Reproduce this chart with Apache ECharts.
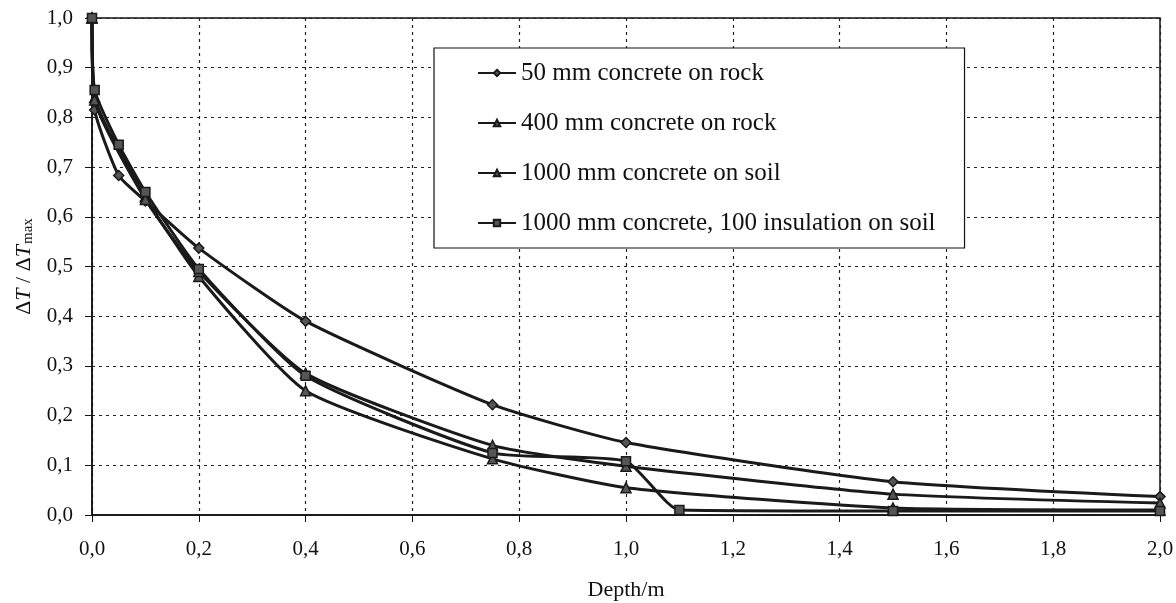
<!DOCTYPE html>
<html>
<head>
<meta charset="utf-8">
<script src="https://cdn.jsdelivr.net/npm/echarts@6/dist/echarts.min.js"></script>
<style>html,body{margin:0;padding:0;background:#fff}#c{width:1176px;height:603px}</style>
</head>
<body>
<div id="c"></div>
<script>
const seriesNames = [
  '50 mm concrete on rock',
  '400 mm concrete on rock',
  '1000 mm concrete on soil',
  '1000 mm concrete, 100 insulation on soil'
];
const concrete50Rock = [[0,1.0],[0.005,0.815],[0.05,0.683],[0.1,0.632],[0.2,0.537],[0.4,0.39],[0.75,0.222],[1.0,0.146],[1.5,0.067],[2.0,0.037]];
const concrete400Rock = [[0,1.0],[0.005,0.84],[0.1,0.64],[0.2,0.48],[0.4,0.25],[0.75,0.113],[1.0,0.055],[1.5,0.014],[2.0,0.01]];
const concrete1000Soil = [[0,1.0],[0.005,0.835],[0.1,0.635],[0.2,0.49],[0.4,0.285],[0.75,0.14],[1.0,0.098],[1.5,0.042],[2.0,0.024]];
const concrete1000Insul = [[0,1.0],[0.005,0.855],[0.05,0.745],[0.1,0.65],[0.2,0.495],[0.4,0.28],[0.75,0.125],[1.0,0.108],[1.1,0.01],[1.5,0.008],[2.0,0.008]];
const seriesData = [concrete50Rock, concrete400Rock, concrete1000Soil, concrete1000Insul];
const symbols = ['diamond','triangle','triangle','rect'];

const fmt = v => v.toFixed(1).replace('.', ',');
const serif = 'Liberation Serif';
const chart = echarts.init(document.getElementById('c'));
chart.setOption({
  animation: false,
  backgroundColor: '#fff',
  textStyle: {fontFamily: serif},
  grid: {left: 92, top: 18, width: 1068, height: 497, containLabel: false, outerBoundsMode: 'none',
         show: true, borderColor: '#111', borderWidth: 1.5},
  legend: {
    orient: 'vertical', left: 434, top: 48,
    padding: [12, 29, 12, 43],
    borderColor: '#111', borderWidth: 1.2, backgroundColor: '#fff',
    itemWidth: 38, itemHeight: 8, itemGap: 24,
    textStyle: {fontFamily: serif, fontSize: 25, lineHeight: 26, color: '#111'},
    data: seriesNames
  },
  xAxis: {
    type: 'value', min: 0, max: 2, interval: 0.2,
    name: 'Depth/m', nameLocation: 'middle', nameGap: 64,
    nameTextStyle: {fontFamily: serif, fontSize: 22, color: '#111'},
    axisLine: {show: true, lineStyle: {color: '#111', width: 1.5}},
    axisTick: {show: true, length: 7, lineStyle: {color: '#111'}},
    axisLabel: {formatter: fmt, fontFamily: serif, fontSize: 21, color: '#111', margin: 24},
    splitLine: {show: true, lineStyle: {color: '#222', type: [3, 4], width: 1.2}}
  },
  yAxis: {
    type: 'value', min: 0, max: 1, interval: 0.1,
    name: '{d|Δ}{i|T}{d| / Δ}{i|T}{s|max}', nameLocation: 'middle', nameGap: 56, nameRotate: 90,
    nameTextStyle: {
      color: '#111',
      rich: {
        d: {fontFamily: serif, fontSize: 22, color: '#111'},
        i: {fontFamily: serif, fontSize: 22, fontStyle: 'italic', color: '#111'},
        s: {fontFamily: serif, fontSize: 15, color: '#111', padding: [9, 0, 0, 1]}
      }
    },
    axisLine: {show: true, lineStyle: {color: '#111', width: 1.5}},
    axisTick: {show: true, length: 7, lineStyle: {color: '#111'}},
    axisLabel: {formatter: fmt, fontFamily: serif, fontSize: 21, color: '#111', margin: 19},
    splitLine: {show: true, lineStyle: {color: '#222', type: [3, 4], width: 1.2}}
  },
  series: seriesNames.map((n, i) => ({
    name: n, type: 'line', data: seriesData[i],
    smooth: 0.18,
    symbol: symbols[i], symbolSize: i === 3 ? 9 : 10,
    lineStyle: {color: '#1a1a1a', width: 3},
    itemStyle: {color: '#555', borderColor: '#1a1a1a', borderWidth: 1.5},
    z: 2 + i
  }))
});
</script>
</body>
</html>
